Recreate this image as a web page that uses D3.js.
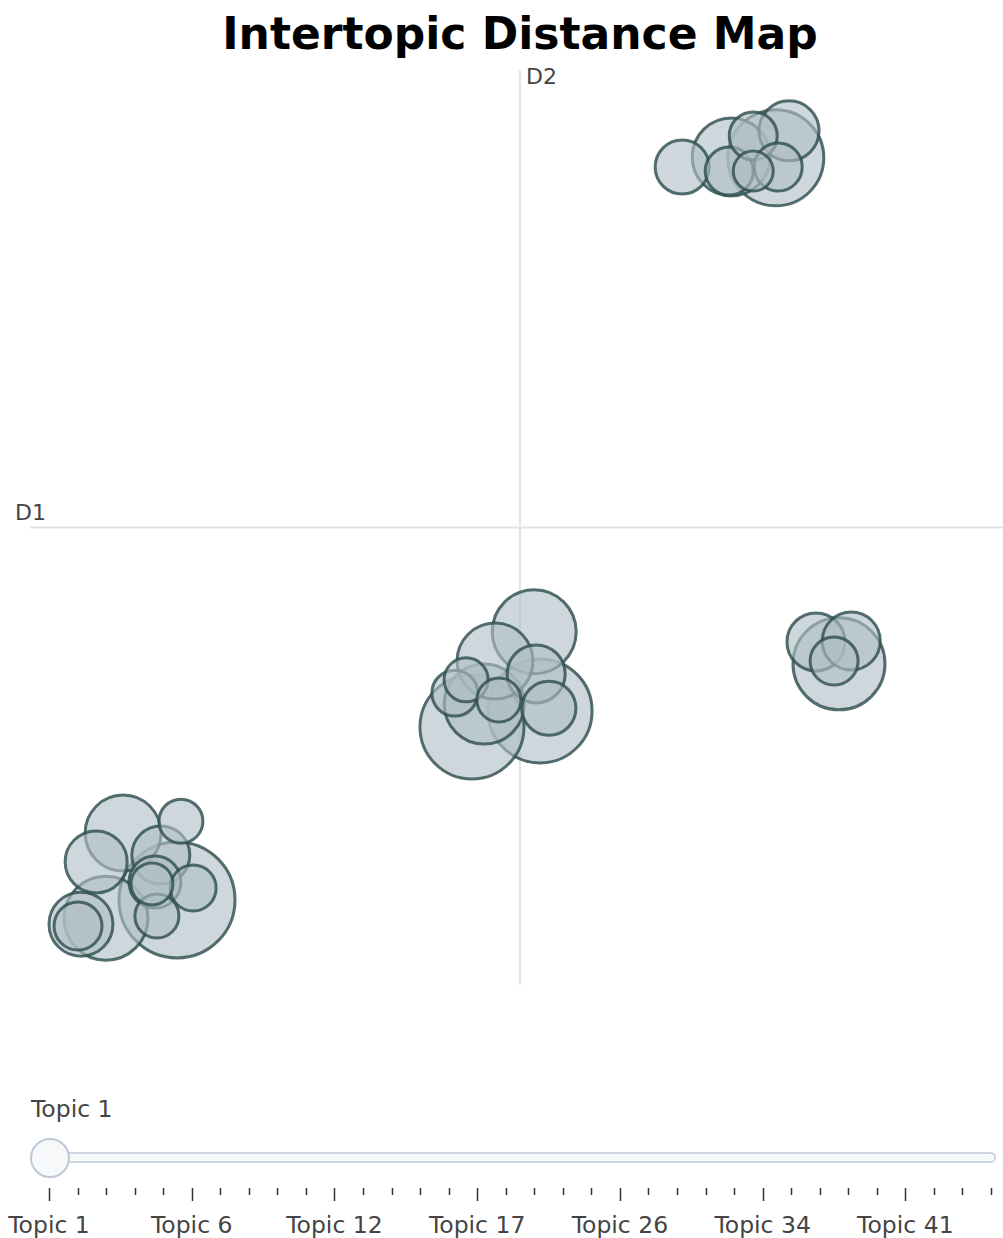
<!DOCTYPE html>
<html>
<head>
<meta charset="utf-8">
<script src="https://cdn.jsdelivr.net/npm/d3@7"></script>
<style>
  html, body { margin: 0; padding: 0; background: #fff; }
  svg { display: block; }
</style>
</head>
<body>
<svg id="chart" width="1003" height="1238"></svg>
<script>
// ---- data ----
const topicX = [13.31, 14.31, 14.27, 14.76, 15.49, 15.22, 15.27, 14.76,
                10.29, 9.49, 10.33, 10.41, 10.59, 9.02, 9.27, 8.67, 8.90, 9.57,
                16.04, 16.76, 16.51, 16.41,
                1.90, 3.08, 1.35, 2.67, 3.00, 2.49, 3.33, 2.59, 1.55, 1.04, 0.98, 2.55];
const topicY = [17.88, 18.10, 17.79, 18.56, 18.67, 18.08, 17.88, 17.79,
                7.72, 7.08, 6.80, 5.99, 6.05, 5.64, 6.14, 6.38, 6.67, 6.23,
                7.50, 7.52, 7.02, 7.08,
                3.32, 3.58, 2.69, 2.84, 1.86, 2.21, 2.12, 1.51, 1.46, 1.33, 1.29, 2.25];
const topicSize = [217, 452, 171, 171, 268, 685, 171, 119,
                   524, 429, 250, 804, 217, 804, 476, 157, 144, 144,
                   250, 250, 629, 171,
                   429, 144, 286, 250, 1000, 131, 157, 144, 524, 304, 171, 201];
const sliderStepCount = 34;
const sliderTickLabels = ["Topic 1", "Topic 6", "Topic 12", "Topic 17", "Topic 26", "Topic 34", "Topic 41"];
const sliderCurrent = "Topic 1";
const titleText = "Intertopic Distance Map";

// ---- drawing ----
const svg = d3.select("#chart");
const font = "'DejaVu Sans', Verdana, sans-serif";

const x = d3.scaleLinear().domain([0, 20]).range([30, 1010]);
const y = d3.scaleLinear().domain([0, 20]).range([985, 70]);
const r = d3.scaleSqrt().domain([0, d3.max(topicSize)]).range([0, 58]);

// title
svg.append("text")
  .attr("x", 520).attr("y", 49)
  .attr("text-anchor", "middle")
  .attr("font-family", font).attr("font-weight", "bold")
  .attr("font-size", 44).attr("fill", "#000")
  .text(titleText);

// cross lines
svg.append("line")
  .attr("x1", x(10)).attr("x2", x(10))
  .attr("y1", y(20)).attr("y2", y(0))
  .attr("stroke", "#dfe4e7").attr("stroke-width", 2);
svg.append("line")
  .attr("x1", x(0)).attr("x2", x(20))
  .attr("y1", y(10)).attr("y2", y(10))
  .attr("stroke", "#dfe4e7").attr("stroke-width", 2);

svg.append("text")
  .attr("x", 15).attr("y", y(10) - 8)
  .attr("font-family", font).attr("font-size", 22).attr("fill", "#444")
  .text("D1");
svg.append("text")
  .attr("x", x(10) + 6).attr("y", 84)
  .attr("font-family", font).attr("font-size", 22).attr("fill", "#444")
  .text("D2");

// bubbles (larger ones first so that small ones sit on top)
const pts = d3.range(topicX.length)
  .map(i => ({x: topicX[i], y: topicY[i], s: topicSize[i]}))
  .sort((a, b) => b.s - a.s);
svg.append("g").selectAll("circle")
  .data(pts)
  .join("circle")
  .attr("cx", d => x(d.x))
  .attr("cy", d => y(d.y))
  .attr("r", d => r(d.s))
  .attr("fill", "#B0BEC5")
  .attr("fill-opacity", 0.62)
  .attr("stroke", "DarkSlateGrey")
  .attr("stroke-opacity", 0.82)
  .attr("stroke-width", 3);

// slider
const sx = d3.scaleLinear().domain([0, sliderStepCount - 1]).range([49, 991]);
svg.append("rect")
  .attr("x", 35).attr("y", 1153)
  .attr("width", 960).attr("height", 9)
  .attr("rx", 4).attr("ry", 4)
  .attr("fill", "#f8fafc").attr("stroke", "#bec8d9").attr("stroke-width", 1.5);

const tickG = svg.append("g");
tickG.selectAll("line")
  .data(d3.range(sliderStepCount))
  .join("line")
  .attr("x1", d => Math.round(sx(d)) + 0.5)
  .attr("x2", d => Math.round(sx(d)) + 0.5)
  .attr("y1", 1188)
  .attr("y2", d => d % 5 === 0 ? 1201 : 1195)
  .attr("stroke", "#333").attr("stroke-width", 1.5);

tickG.selectAll("text")
  .data(sliderTickLabels)
  .join("text")
  .attr("x", (d, i) => sx(i * 5))
  .attr("y", 1233)
  .attr("text-anchor", "middle")
  .attr("font-family", font).attr("font-size", 23.5).attr("fill", "#444")
  .text(d => d);

svg.append("circle")
  .attr("cx", sx(0) + 1).attr("cy", 1158)
  .attr("r", 19)
  .attr("fill", "#f6f8fa").attr("stroke", "#bec8d9").attr("stroke-width", 2);

svg.append("text")
  .attr("x", 31).attr("y", 1117)
  .attr("font-family", font).attr("font-size", 23.5).attr("fill", "#444")
  .text(sliderCurrent);
</script>
</body>
</html>
